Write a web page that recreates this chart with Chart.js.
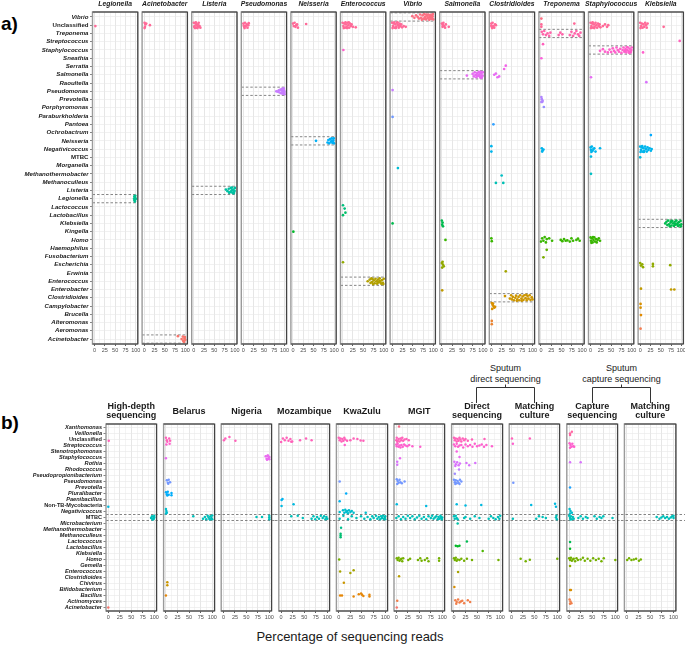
<!DOCTYPE html>
<html>
<head>
<meta charset="utf-8">
<script src="https://cdn.jsdelivr.net/npm/chart.js@4.4.0/dist/chart.umd.min.js"></script>
<style>
  body { margin: 0; width: 685px; height: 645px; background: #fff; position: relative; overflow: hidden;
         font-family: "Liberation Sans", Arial, sans-serif; }
  canvas { position: absolute; }
  .tag { position: absolute; font-weight: bold; font-size: 19px; line-height: 22px; color: #000; }
  #xtitle { position: absolute; left: 0; width: 700px; top: 629px; text-align: center; font-size: 13px; line-height: 16px; color: #1a1a1a; }
</style>
</head>
<body>
<div class="tag" style="left:1px;top:13px">a)</div>
<div class="tag" style="left:1px;top:412px">b)</div>
<svg width="685" height="420" style="position:absolute;left:0;top:0">
  <g stroke="#333" stroke-width="1" fill="none">
    <path d="M476.5 403V387.5H534.5V403M505.5 387.5V384.5"/>
    <path d="M592.5 403V387.5H650.5V403M621.5 387.5V384.5"/>
  </g>
  <g font-size="9" text-anchor="middle" fill="#1a1a1a" font-family="Liberation Sans, Arial, sans-serif">
    <text x="505.5" y="370.5">Sputum</text>
    <text x="505.5" y="381.5">direct sequencing</text>
    <text x="621.5" y="370.5">Sputum</text>
    <text x="621.5" y="381.5">capture sequencing</text>
  </g>
</svg>
<div id="xtitle">Percentage of sequencing reads</div>
<script>
// genus rows, top to bottom
const genusA = ['Vibrio','Unclassified','Treponema','Streptococcus','Staphylococcus','Sneathia','Serratia','Salmonella',
  'Raoultella','Pseudomonas','Prevotella','Porphyromonas','Paraburkholderia','Pantoea','Ochrobactrum','Neisseria',
  'Negativicoccus','MTBC','Morganella','Methanothermobacter','Methanoculleus','Listeria','Legionella','Lactococcus',
  'Lactobacillus','Klebsiella','Kingella','Homo','Haemophilus','Fusobacterium','Escherichia','Erwinia','Enterococcus',
  'Enterobacter','Clostridioides','Campylobacter','Brucella','Alteromonas','Aeromonas','Acinetobacter'];
const genusB = ['Xanthomonas','Veillonella','Unclassified','Streptococcus','Stenotrophomonas','Staphylococcus','Rothia',
  'Rhodococcus','Pseudopropionibacterium','Pseudomonas','Prevotella','Pluralibacter','Paenibacillus','Non-TB-Mycobacteria',
  'Negativicoccus','MTBC','Microbacterium','Methanothermobacter','Methanoculleus','Lactococcus','Lactobacillus','Klebsiella',
  'Homo','Gemella','Enterococcus','Clostridioides','Chivirus','Bifidobacterium','Bacillus','Actinomyces','Acinetobacter'];
const plainNames = ['Unclassified', 'MTBC', 'Non-TB-Mycobacteria'];

const facetsA = ['Legionella','Acinetobacter','Listeria','Pseudomonas','Neisseria','Enterococcus','Vibrio','Salmonella',
  'Clostridioides','Treponema','Staphylococcus','Klebsiella'];
const facetsB = [['High-depth','sequencing'],['Belarus'],['Nigeria'],['Mozambique'],['KwaZulu'],['MGIT'],
  ['Direct','sequencing'],['Matching','culture'],['Capture','sequencing'],['Matching','culture']];
const xTicks = [0, 12.5, 25, 37.5, 50, 62.5, 75, 87.5, 100];

// points: [percentage of reads, vertical jitter in rows]
const ptsLegionella = {
  Unclassified: [[2,.1]],
  Legionella: [[97,-.3],[98,-.1],[99,.1],[97,.2],[98,.35],[99,-.35],[100,0],[96,0]]
};
const ptsAcinetobacter = {
  Unclassified: [[1,-.3],[3,-.1],[2,.2],[5,-.2],[1,.35],[14,0]],
  Acinetobacter: [[82,-.35],[91,0],[94,-.3],[96,.2],[98,-.1],[97,.35],[100,.1],[95,.25],[99,-.25]]
};
const ptsListeria = {
  Unclassified: [[0,-.3],[2,.1],[4,-.2],[6,.3],[8,-.1],[10,.2],[12,-.3],[3,.35],[7,0],[14,.1],[16,.3],[1,.2],[5,-.35],[9,.35],[11,-.05]],
  Listeria: [[78,-.1],[82,.1],[85,-.2],[88,.2],[90,-.3],[92,0],[94,.3],[96,-.1],[98,.2],[100,-.3],[97,.35],[93,-.35],[99,.05],[86,.3],[91,.15]]
};
const ptsPseudomonas = {
  Unclassified: [[0,-.2],[2,.2],[4,-.3],[6,.1],[8,-.1],[10,.3],[12,0],[3,.35],[13,-.25],[1,.05]],
  Pseudomonas: [[80,0],[84,.05],[86,-.1],[88,.15],[90,-.2],[92,.25],[94,-.3],[96,.3],[98,-.35],[100,.35],[97,0],[99,-.1],[95,.1],[93,-.1],[100,.1],[98,.2]]
};
const ptsNeisseria = {
  Unclassified: [[0,-.2],[2,.1],[4,-.3],[6,.2],[8,0],[10,-.1],[12,.3],[32,-.15]],
  Neisseria: [[56,0],[84,.2],[86,-.1],[88,.3],[90,-.2],[92,.1],[94,-.3],[96,.25],[98,-.05],[100,.3],[99,-.3],[95,0],[97,.15]],
  Kingella: [[1,0]]
};
const ptsEnterococcus = {
  Unclassified: [[0,-.3],[2,.1],[4,-.2],[6,.3],[8,-.1],[10,.2],[12,-.3],[14,0],[16,.3],[18,-.2],[20,.1],[22,-.1],[25,.2],[3,.35],[7,-.35],[11,.35],[15,-.35],[32,.25]],
  Staphylococcus: [[2,0]],
  Lactococcus: [[1,-.2],[5,.2]],
  Lactobacillus: [[7,-.3],[1,0]],
  Escherichia: [[1,-.3]],
  Enterococcus: [[61,0],[66,-.2],[68,.2],[70,-.35],[72,.1],[74,.35],[76,-.1],[78,.25],[80,-.3],[82,0],[84,.3],[86,-.2],[88,.15],[90,-.35],[92,.1],[94,.3],[96,-.15],[98,.2],[100,-.3],[99,.35],[73,-.25],[85,.05],[91,-.05]]
};
const ptsVibrio = {
  Vibrio: [[49,-.1],[54,.1],[58,-.2],[62,0],[65,.2],[68,-.3],[70,.1],[72,.35],[74,-.2],[76,.2],[78,-.35],[80,0],[82,.3],[84,-.15],[86,.15],[88,-.3],[90,.35],[92,0],[94,-.25],[96,.25],[98,-.1],[100,.3],[99,-.35],[97,.1],[95,-.05],[93,.2],[91,-.2],[87,.05],[83,-.3],[79,.25]],
  Unclassified: [[0,-.3],[2,.1],[4,-.2],[6,.3],[8,-.1],[10,.2],[12,-.3],[14,0],[16,.3],[18,-.2],[20,.1],[22,-.1],[24,.25],[1,.35],[5,-.35],[9,.35],[13,-.35],[17,.05],[28,.1],[33,.2]],
  Pseudomonas: [[1,-.15]],
  Paraburkholderia: [[1,.1]],
  Morganella: [[14,.3]],
  Klebsiella: [[1,0]]
};
const ptsSalmonella = {
  Unclassified: [[0,-.2],[2,.2],[4,-.3],[6,.1],[8,.3],[10,-.1],[17,.2],[3,0]],
  Salmonella: [[61,.1],[75,-.1],[78,.2],[80,-.3],[82,0],[84,.3],[86,-.2],[88,.15],[90,-.35],[92,.1],[94,.35],[96,-.15],[98,.2],[100,-.3],[99,.1],[97,.35],[85,.05],[91,-.05],[95,-.35],[93,.25]],
  Klebsiella: [[0,-.35],[2,-.1],[1,.15],[3,.35]],
  Homo: [[9,0]],
  Escherichia: [[0,-.2],[3,0],[5,.2],[1,.35],[2,-.35]],
  Enterobacter: [[1,.1]]
};
const ptsClostridioides = {
  Unclassified: [[0,-.2],[1,.2],[3,-.3],[5,.1],[7,.3],[9,-.1],[11,0],[2,.35],[0,.05]],
  Serratia: [[35,-.1],[31,.3]],
  Salmonella: [[11,-.15],[7,0],[15,.3],[19,.2]],
  Pantoea: [[5,0]],
  Negativicoccus: [[0,-.35],[0,.3]],
  Methanothermobacter: [[25,.2]],
  Methanoculleus: [[11,.1],[29,.1]],
  Homo: [[0,-.2],[1,.15]],
  Erwinia: [[35,-.2]],
  Clostridioides: [[33,-.2],[45,.1],[48,-.3],[50,.2],[52,-.1],[55,.3],[58,0],[60,-.25],[63,.2],[66,-.1],[68,.3],[70,-.3],[73,.1],[76,-.15],[78,.25],[80,-.3],[83,.05],[86,.3],[88,-.2],[90,.1],[93,-.3],[95,.25],[98,-.05],[100,.2],[62,.35],[85,-.35],[74,.35]],
  Campylobacter: [[1,-.35],[3,-.15],[5,0],[7,.2],[2,.35],[9,.1],[4,-.3]],
  Alteromonas: [[1,-.2],[1,.2]]
};
const ptsTreponema = {
  Vibrio: [[1,.2]],
  Unclassified: [[1,-.1],[1,.2],[81,-.2]],
  Treponema: [[2,-.2],[5,.1],[8,-.3],[12,.2],[16,0],[20,.3],[23,-.1],[43,.2],[47,-.1],[52,.1],[70,.2],[74,-.2],[78,.3],[82,0],[86,-.3],[90,.1],[93,.3],[96,-.1]],
  Streptococcus: [[5,.3]],
  Sneathia: [[1,0]],
  Prevotella: [[1,-.3],[2,-.05],[4,.15],[1,.3],[3,.3]],
  Porphyromonas: [[7,-.1]],
  Negativicoccus: [[2,-.1],[4,.15],[6,.05],[3,.3]],
  Homo: [[0,.2],[3,-.2],[6,.1],[9,-.35],[12,.3],[14,-.1],[20,-.2],[27,.1],[48,0],[52,.15],[56,-.1],[60,.1],[64,.05],[70,.2],[74,-.2],[78,.1],[86,0],[90,-.15],[94,.1]],
  Haemophilus: [[14,.2]],
  Fusobacterium: [[6,.1]]
};
const ptsStaphylococcus = {
  Unclassified: [[0,-.3],[2,.1],[4,-.2],[6,.3],[8,-.1],[10,.2],[12,-.3],[14,0],[16,.3],[18,-.2],[20,.1],[22,-.1],[24,.25],[1,.35],[5,-.35],[9,.35],[30,.1],[35,-.1],[40,.2],[43,0]],
  Staphylococcus: [[23,.1],[30,-.1],[35,.2],[42,.3],[46,-.05],[50,.25],[54,-.2],[57,.1],[60,.3],[63,-.3],[66,0],[69,.2],[72,-.15],[75,.35],[78,0],[80,-.3],[82,.2],[85,-.1],[87,.3],[89,0],[91,-.3],[93,.15],[95,-.15],[97,.3],[99,0],[100,-.3],[98,.2],[94,.35],[88,-.35],[84,.1]],
  Salmonella: [[1,.3]],
  Negativicoccus: [[0,-.2],[1,.1],[3,-.3],[5,.2],[7,0],[9,-.1],[2,.35],[12,.3],[23,-.1]],
  MTBC: [[1,-.1]],
  Methanothermobacter: [[1,0]],
  Homo: [[0,-.3],[1,.1],[3,-.2],[5,.3],[7,0],[9,-.3],[11,.2],[13,-.1],[15,.3],[17,0],[20,-.2],[23,.1],[2,.35],[6,-.35]]
};
const ptsKlebsiella = {
  Unclassified: [[0,-.3],[2,.1],[4,-.2],[6,.3],[8,-.1],[10,.2],[12,-.3],[14,0],[16,.3],[18,-.2],[1,.35],[57,.2]],
  Streptococcus: [[96,-.1]],
  Staphylococcus: [[7,.3]],
  Raoultella: [[15,-.1]],
  Ochrobactrum: [[26,.3]],
  Negativicoccus: [[0,-.3],[2,.1],[4,-.2],[6,.3],[8,-.1],[10,.2],[12,-.3],[14,0],[16,.3],[18,-.2],[20,.1],[23,-.1],[26,.2],[28,0],[1,.35],[5,-.35],[9,.35]],
  MTBC: [[0,0]],
  Klebsiella: [[61,0],[64,-.2],[66,.2],[68,-.35],[70,.1],[72,.35],[74,-.1],[76,.25],[78,-.3],[80,0],[82,.3],[84,-.2],[86,.15],[88,-.35],[90,.1],[92,.3],[94,-.15],[96,.2],[98,-.3],[100,.1],[99,.35],[75,-.25],[85,.05],[91,-.05]],
  Escherichia: [[0,-.2],[2,.1],[5,-.05],[7,.3],[31,-.1],[31,.2],[73,.05]],
  Enterobacter: [[2,-.1],[75,0],[83,0]],
  Campylobacter: [[1,-.25],[1,.2]],
  Brucella: [[2,.1]],
  Aeromonas: [[1,-.25]]
};

const ptsHighDepth = {
  Unclassified: [[1,.2]],
  'Non-TB-Mycobacteria': [[0,.2]],
  MTBC: [[93,.1],[95,-.2],[97,.3],[98,-.1],[99,.2],[100,-.3],[100,0],[96,.35]],
  Acinetobacter: [[0,0]]
};
const ptsBelarus = {
  Unclassified: [[0,-.3],[2,.1],[7,-.2],[9,.2],[3,.35]],
  Streptococcus: [[1,-.2],[8,-.3]],
  Staphylococcus: [[0,.1]],
  Pseudomonas: [[2,-.2],[4,.2],[6,-.3],[9,.1],[5,.35]],
  Pluralibacter: [[0,-.2],[2,.1],[4,-.3],[6,.2],[12,-.1],[12,.3],[3,.35]],
  Negativicoccus: [[0,-.4],[1,-.1],[2,.2],[0,.35]],
  MTBC: [[59,-.2],[80,.2],[84,-.1],[87,.3],[90,-.3],[92,0],[94,.25],[96,-.2],[98,.1],[100,-.35],[100,.3],[95,.35]],
  Chivirus: [[3,-.2],[3,.3]],
  Bacillus: [[0,0]]
};
const ptsNigeria = {
  Unclassified: [[1,.1],[4,-.2],[13,-.45],[26,.2]],
  Staphylococcus: [[92,-.2],[94,.2],[96,-.3],[98,.1],[100,-.1],[100,.3],[95,.35],[97,-.35]],
  MTBC: [[72,-.1],[84,-.1],[100,-.3],[100,.3],[100,0]]
};
const ptsMozambique = {
  Unclassified: [[0,.4],[4,-.2],[8,.1],[12,-.3],[16,.2],[20,-.1],[24,.3],[22,.35],[41,.1],[54,-.2],[66,.1]],
  Paenibacillus: [[1,.1],[3,-.1]],
  'Non-TB-Mycobacteria': [[1,.1],[27,-.2]],
  MTBC: [[22,-.2],[36,-.3],[47,.1],[66,.2],[70,-.2],[74,.3],[78,-.1],[82,.2],[86,-.3],[90,.1],[93,-.2],[96,.3],[98,-.1],[100,.2]]
};
const ptsKwaZulu = {
  Unclassified: [[0,-.3],[2,.1],[4,-.2],[6,.3],[8,-.1],[10,.2],[12,-.3],[14,0],[18,.2],[25,.1],[32,-.2],[40,-.1],[47,.15],[53,.2]],
  Streptococcus: [[13,-.1]],
  Pseudomonas: [[2,0]],
  Pluralibacter: [[16,0]],
  Paenibacillus: [[2,.3]],
  Negativicoccus: [[2,.1],[9,-.2],[12,.2],[14,-.3],[16,.1],[18,-.1],[20,.3],[22,-.2],[25,.1],[28,-.1],[32,.2],[58,.2]],
  MTBC: [[2,.2],[10,-.3],[20,.3],[28,-.2],[38,.1],[48,-.2],[55,.2],[62,-.1],[68,.3],[72,-.2],[75,.1],[80,-.3],[83,.2],[86,-.1],[89,.3],[91,-.2],[93,.1],[95,-.3],[97,.25],[99,0],[100,-.2],[100,.3]],
  Methanothermobacter: [[5,-.3]],
  Methanoculleus: [[4,-.3],[4,0],[4,.3]],
  Homo: [[1,0]],
  Enterococcus: [[3,0],[25,.25],[32,-.2]],
  Chivirus: [[11,-.1]],
  Bacillus: [[3,0],[7,0],[32,.2],[43,-.2],[48,-.3],[50,-.1],[53,.1],[66,-.1],[66,.2]]
};
const ptsMGIT = {
  Xanthomonas: [[6,-.2]],
  Unclassified: [[0,.1],[1,-.3],[3,.2],[5,-.1],[7,.3],[9,-.2],[11,.1],[13,-.3],[15,.2],[18,0],[22,-.1],[27,.1],[2,.35]],
  Streptococcus: [[0,-.2],[1,.1],[3,-.3],[5,.2],[7,0],[9,.3],[11,-.1],[14,.2],[17,-.2],[20,0],[24,.1],[28,-.1],[35,.1],[52,.2]],
  Staphylococcus: [[8,.1]],
  Rothia: [[2,-.3],[2,.2]],
  Pseudomonas: [[1,-.4],[3,-.1],[5,.2],[7,-.3],[9,.1],[12,.3],[18,0],[2,.4]],
  'Non-TB-Mycobacteria': [[1,-.2],[65,.1]],
  MTBC: [[0,.1],[5,-.2],[10,.3],[15,-.1],[20,.2],[25,-.3],[30,.1],[35,-.2],[40,.3],[45,0],[50,-.3],[55,.2],[60,-.1],[65,.3],[70,-.2],[75,.1],[78,-.3],[81,.2],[84,0],[87,-.2],[90,.3],[92,-.1],[94,.2],[96,-.3],[98,.1],[100,0],[99,.3],[97,-.1]],
  Homo: [[1,-.2],[3,.1],[5,-.3],[7,.2],[9,0],[11,-.1],[13,.3],[15,-.2],[26,.1],[30,-.1],[47,.1],[52,-.2],[55,.2],[62,.1],[67,-.2],[70,.3],[93,.2],[93,-.2]],
  Clostridioides: [[6,-.2]],
  Actinomyces: [[2,-.1]],
  Acinetobacter: [[1,0]]
};
const ptsDirect = {
  Unclassified: [[0,-.3],[2,.1],[4,-.2],[6,.3],[8,-.1],[10,.2],[12,-.3],[14,0],[16,.3],[19,-.2],[22,.1],[25,-.1],[30,.2],[39,0],[66,-.1]],
  Streptococcus: [[0,-.2],[3,.1],[6,-.3],[9,.2],[12,0],[16,-.1],[20,.3],[25,-.2],[30,.1],[35,-.1],[40,.2],[45,-.3],[50,.1],[55,0],[60,-.2],[65,.2],[70,-.1],[82,.1]],
  Stenotrophomonas: [[6,0]],
  Staphylococcus: [[12,-.1]],
  Rothia: [[1,-.3],[4,.1],[7,-.2],[10,.3],[13,0],[3,.4],[27,-.1],[33,.3],[46,-.1]],
  Rhodococcus: [[11,0]],
  Pseudopropionibacterium: [[2,-.3]],
  Pseudomonas: [[0,-.3],[2,.1],[4,-.2],[6,.3],[8,-.1],[10,.2],[13,-.3],[16,0],[3,.4],[12,.4]],
  'Non-TB-Mycobacteria': [[6,-.2],[25,0],[59,-.1]],
  MTBC: [[0,-.2],[2,.2],[4,-.3],[6,.1],[8,.3],[22,.1],[25,-.1],[35,.2],[45,-.2],[55,.1],[75,.2],[80,-.2],[85,.1],[90,.3],[95,-.1],[98,.2],[100,-.3]],
  Microbacterium: [[8,0]],
  Lactococcus: [[28,0]],
  Lactobacillus: [[4,-.3],[8,-.2],[12,-.3]],
  Klebsiella: [[62,-.4]],
  Homo: [[0,-.2],[2,.1],[4,-.3],[6,.2],[8,0],[12,.1],[16,-.1],[22,.2],[28,-.1],[39,.1],[96,.1]],
  Enterococcus: [[9,.1]],
  Bifidobacterium: [[1,-.4]],
  Actinomyces: [[3,-.2],[6,.1],[9,-.3],[12,.2],[15,0],[18,-.1],[22,.3],[30,-.2],[35,.1],[5,.4]]
};
const ptsMatchDirect = {
  Unclassified: [[1,-.2],[40,-.2]],
  Streptococcus: [[3,-.3]],
  Pseudomonas: [[4,.2]],
  'Non-TB-Mycobacteria': [[43,-.1],[95,-.3],[97,.2]],
  MTBC: [[3,.2],[54,.2],[60,-.2],[68,-.1],[75,.1],[97,0],[98,-.3],[99,.3]],
  Homo: [[20,-.1],[31,.3],[40,.05],[100,-.1]]
};
const ptsCapture = {
  Veillonella: [[6,-.3],[2,0],[2,.25]],
  Streptococcus: [[1,-.4],[3,-.1],[5,.2],[7,-.3],[9,.1],[11,.2],[2,.35]],
  Rothia: [[2,-.2],[25,-.2]],
  Prevotella: [[2,0]],
  Negativicoccus: [[1,-.4],[3,-.1],[6,.2],[2,.35]],
  MTBC: [[0,-.3],[2,.1],[4,-.2],[6,.3],[8,-.1],[10,.2],[3,.35],[20,.1],[25,-.2],[30,.2],[36,-.1],[40,.1],[55,-.2],[60,.2],[66,-.1],[70,.1],[74,-.2],[94,.1]],
  Lactococcus: [[2,.1]],
  Lactobacillus: [[2,.2]],
  Homo: [[0,-.2],[2,.1],[4,-.3],[6,.2],[8,0],[10,-.1],[13,.3],[16,-.2],[19,.1],[25,0],[30,-.3],[34,.2],[40,-.1],[46,.2],[52,-.2],[58,.1],[64,-.1],[70,.3],[75,-.2],[100,.1]],
  Gemella: [[2,.1]],
  Bifidobacterium: [[2,.1],[4,.1]],
  Actinomyces: [[1,-.3],[3,0],[5,.3],[2,.4]]
};
const ptsMatchCapture = {
  MTBC: [[64,-.1],[70,.2],[74,0],[78,-.2],[82,.1],[86,-.1],[90,.2],[94,0],[97,-.2],[100,.1],[100,-.3]],
  Homo: [[1,.1],[5,-.2],[10,.1],[15,0],[20,-.1],[26,.2],[30,0]]
};

const dataA = [ptsLegionella, ptsAcinetobacter, ptsListeria, ptsPseudomonas, ptsNeisseria, ptsEnterococcus,
  ptsVibrio, ptsSalmonella, ptsClostridioides, ptsTreponema, ptsStaphylococcus, ptsKlebsiella];
const dataB = [ptsHighDepth, ptsBelarus, ptsNigeria, ptsMozambique, ptsKwaZulu, ptsMGIT,
  ptsDirect, ptsMatchDirect, ptsCapture, ptsMatchCapture];

// ggplot-like hue palette (hcl, c=100, l=65)
function hueColour(i, n) {
  const h = (15 + 360 * i / n) * Math.PI / 180;
  const L = 65, C = 100;
  const Y = Math.pow((L + 16) / 116, 3);
  const u = C * Math.cos(h) / (13 * L) + 0.1978398;
  const v = C * Math.sin(h) / (13 * L) + 0.4683363;
  const X = Y * 9 * u / (4 * v), Z = Y * (12 - 3 * u - 20 * v) / (4 * v);
  const lin = [3.240479 * X - 1.53715 * Y - 0.498535 * Z,
               -0.969256 * X + 1.875992 * Y + 0.041556 * Z,
               0.055648 * X - 0.204043 * Y + 1.057311 * Z];
  const g = c => {
    c = Math.max(0, Math.min(1, c));
    c = c <= 0.0031308 ? 12.92 * c : 1.055 * Math.pow(c, 1 / 2.4) - 0.055;
    return Math.round(c * 255);
  };
  return 'rgb(' + lin.map(g).join(',') + ')';
}

const FONT = '"Liberation Sans", Arial, sans-serif';

function facet(f) {
  const c = document.createElement('canvas');
  c.width = f.cw; c.height = f.ch;
  c.style.left = f.cx + 'px'; c.style.top = f.cy + 'px';
  document.body.appendChild(c);
  const rows = f.rows, n = rows.length;
  const datasets = Object.keys(f.pts).map(g => ({
    label: g,
    data: f.pts[g].map(p => ({ x: p[0], y: rows.indexOf(g) + p[1] })),
    backgroundColor: hueColour(n - 1 - rows.indexOf(g), n),
    pointRadius: f.r, pointHoverRadius: f.r, borderWidth: 0
  }));
  const deco = {
    id: 'deco',
    beforeDatasetsDraw(chart) {
      const { ctx, chartArea: a, scales: { y } } = chart;
      const r = rows.indexOf(f.target);
      ctx.save();
      ctx.setLineDash([2.5, 2]);
      ctx.strokeStyle = '#666'; ctx.lineWidth = 0.8;
      [r - 0.5, r + 0.5].forEach(v => {
        const py = y.getPixelForValue(v);
        ctx.beginPath();
        ctx.moveTo(f.dashFull ? (f.first ? a.left : 0) : a.left, py);
        ctx.lineTo(f.dashFull ? c.width : a.right, py);
        ctx.stroke();
      });
      ctx.restore();
    },
    afterDraw(chart) {
      const { ctx, chartArea: a } = chart;
      ctx.save();
      // panel frame: soft grey all round, darker on the right
      ctx.strokeStyle = '#9a9a9a'; ctx.lineWidth = 1.4;
      ctx.strokeRect(a.left, a.top, a.right - a.left, a.bottom - a.top);
      ctx.strokeStyle = '#3a3a3a'; ctx.lineWidth = 1;
      ctx.beginPath();
      ctx.moveTo(a.left, a.top); ctx.lineTo(a.right, a.top); ctx.lineTo(a.right, a.bottom); ctx.lineTo(a.left, a.bottom);
      ctx.stroke();
      ctx.fillStyle = '#1a1a1a'; ctx.font = f.titleFont;
      ctx.textAlign = 'center'; ctx.textBaseline = 'middle';
      const mid = (a.left + a.right) / 2;
      f.title.forEach((t, i) => ctx.fillText(t, mid, a.top - f.titleY[f.title.length - 1][i]));
      ctx.restore();
    }
  };
  new Chart(c, {
    type: 'scatter',
    data: { datasets },
    plugins: [deco],
    options: {
      responsive: false, animation: false,
      layout: { padding: { left: f.padL, right: f.padR, top: f.padT, bottom: 0 } },
      plugins: { legend: { display: false }, tooltip: { enabled: false } },
      scales: {
        x: {
          type: 'linear', min: -5, max: 105,
          afterBuildTicks: s => { s.ticks = xTicks.map(v => ({ value: v })); },
          afterFit: s => { s.height = 12; },
          border: { display: false },
          grid: {
            color: ctx => ctx.tick && ctx.tick.value % 25 === 0 ? '#e0e0e0' : '#ededed',
            lineWidth: ctx => ctx.tick && ctx.tick.value % 25 === 0 ? 0.8 : 0.6,
            tickLength: 2,
            tickColor: ctx => ctx.tick && ctx.tick.value % 25 === 0 ? '#333' : 'rgba(0,0,0,0)'
          },
          ticks: {
            autoSkip: false, maxRotation: 0, padding: 1, color: '#4d4d4d',
            font: { family: FONT, size: 5.5 },
            callback: v => v % 25 === 0 ? String(v) : ''
          }
        },
        y: {
          type: 'linear', min: -0.6, max: n - 0.4, reverse: true,
          afterBuildTicks: s => { s.ticks = rows.map((g, i) => ({ value: i })); },
          afterFit: s => { s.width = f.yW; },
          border: { display: false },
          grid: { color: '#e8e8e8', lineWidth: 0.6, drawTicks: f.first, tickLength: 2.5, tickColor: '#333' },
          ticks: {
            display: f.first, autoSkip: false, padding: 1.5, color: '#1a1a1a',
            font: ctx => ({ family: FONT, size: f.labelSize, weight: 'bold',
              style: ctx.tick && plainNames.includes(rows[ctx.tick.value]) ? 'normal' : 'italic' }),
            callback: v => rows[v]
          }
        }
      }
    }
  });
}

// panel a
const aLeft0 = 92.5, aPitch = 49.6, aW = 45.3;
facetsA.forEach((name, i) => {
  const left = aLeft0 + aPitch * i;
  const first = i === 0;
  const cx = first ? 0 : Math.floor(left) - 4;
  const cw = Math.ceil(left + aW) + 7 - cx;
  facet({
    cx, cy: 0, cw, ch: 356, padT: 12, padL: first ? 0 : left - cx, padR: cw - (left + aW - cx),
    yW: first ? left : 0, first, rows: genusA, pts: dataA[i], target: name, r: 1.35, labelSize: 6.1,
    title: [name], titleFont: 'italic bold 6.8px ' + FONT, titleY: [[8]], dashFull: false
  });
});

// panel b
const bLeft0 = 106, bPitch = 57.6, bW = 51.5;
facetsB.forEach((title, i) => {
  const left = bLeft0 + bPitch * i;
  const first = i === 0;
  const cx = first ? 0 : Math.floor(left) - 3;
  const next = i === facetsB.length - 1 ? 685 : Math.floor(bLeft0 + bPitch * (i + 1)) - 3;
  const cw = next - cx;
  facet({
    cx, cy: 395, cw, ch: 228, padT: 29, padL: first ? 0 : left - cx, padR: cw - (left + bW - cx),
    yW: first ? left : 0, first, rows: genusB, pts: dataB[i], target: 'MTBC', r: 1.25, labelSize: 5.6,
    title, titleFont: 'bold 9px ' + FONT, titleY: [[12], [17, 8.5]], dashFull: true
  });
});
</script>
</body>
</html>
